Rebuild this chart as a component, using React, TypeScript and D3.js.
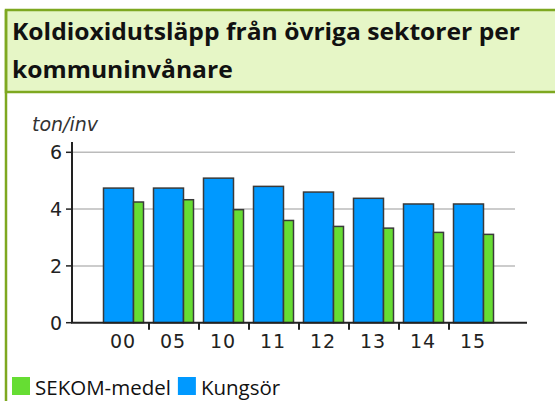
import React, { useEffect, useRef } from "react";
import * as d3 from "d3";

const years = ["00", "05", "10", "11", "12", "13", "14", "15"];
const kungsor = [4.74, 4.74, 5.09, 4.8, 4.6, 4.38, 4.18, 4.18];
const sekom = [4.25, 4.33, 3.98, 3.6, 3.39, 3.33, 3.18, 3.11];
const yTicks = [0, 2, 4, 6];
const titleLines = ["Koldioxidutsläpp från övriga sektorer per", "kommuninvånare"];
const legendItems = [
  { label: "SEKOM-medel", color: "#66dd33" },
  { label: "Kungsör", color: "#0099ff" },
];

const App = () => {
  const ref = useRef<SVGSVGElement>(null);

  useEffect(() => {
    const svg = d3.select(ref.current);
    svg.selectAll("*").remove();

    // header box
    svg
      .append("rect")
      .attr("x", 6)
      .attr("y", 10)
      .attr("width", 560)
      .attr("height", 82)
      .attr("fill", "#e6f6c6")
      .attr("stroke", "#7ea820")
      .attr("stroke-width", 2.5);
    svg
      .append("line")
      .attr("x1", 6)
      .attr("x2", 6)
      .attr("y1", 10)
      .attr("y2", 401)
      .attr("stroke", "#7ea820")
      .attr("stroke-width", 2.5);

    // title, squeezed so the first line spans like the narrow original font
    const spans = titleLines.map((line, i) =>
      svg
        .append("text")
        .attr("x", 12)
        .attr("y", 40 + i * 38)
        .attr("font-family", "Open Sans")
        .attr("font-weight", "bold")
        .attr("font-size", 24)
        .attr("fill", "#111")
        .text(line)
    );
    const k = 508 / (spans[0].node() as SVGTextElement).getComputedTextLength();
    spans.forEach((s) => {
      const w = (s.node() as SVGTextElement).getComputedTextLength();
      s.attr("textLength", w * k).attr("lengthAdjust", "spacingAndGlyphs");
    });

    const x = d3.scaleBand().domain(years).range([99, 499]);
    const bw = x.bandwidth();
    const y = d3.scaleLinear().domain([0, 6]).range([322.7, 152.3]);

    const axisLeft = 72;
    const axisRight = 527;

    // grid
    svg
      .append("g")
      .selectAll("line")
      .data(yTicks.filter((d) => d > 0))
      .enter()
      .append("line")
      .attr("x1", axisLeft)
      .attr("x2", 515)
      .attr("y1", (d) => y(d))
      .attr("y2", (d) => y(d))
      .attr("stroke", "#bbb")
      .attr("stroke-width", 1.5);

    // bars
    const g = svg.append("g").attr("stroke", "#3a3a3a").attr("stroke-width", 1.5);
    g.selectAll(".k")
      .data(years)
      .enter()
      .append("rect")
      .attr("x", (d) => x(d)! + bw * 0.09)
      .attr("width", bw * 0.6)
      .attr("y", (d, i) => y(kungsor[i]))
      .attr("height", (d, i) => y(0) - y(kungsor[i]))
      .attr("fill", "#0099ff");
    g.selectAll(".s")
      .data(years)
      .enter()
      .append("rect")
      .attr("x", (d) => x(d)! + bw * 0.69)
      .attr("width", bw * 0.2)
      .attr("y", (d, i) => y(sekom[i]))
      .attr("height", (d, i) => y(0) - y(sekom[i]))
      .attr("fill", "#66dd33");

    // axes
    svg
      .append("line")
      .attr("x1", axisLeft)
      .attr("x2", axisLeft)
      .attr("y1", 142)
      .attr("y2", y(0))
      .attr("stroke", "#222")
      .attr("stroke-width", 2);
    svg
      .append("line")
      .attr("x1", axisLeft - 1)
      .attr("x2", axisRight)
      .attr("y1", y(0))
      .attr("y2", y(0))
      .attr("stroke", "#222")
      .attr("stroke-width", 2);

    svg
      .append("g")
      .selectAll("line")
      .data(yTicks)
      .enter()
      .append("line")
      .attr("x1", axisLeft - 6)
      .attr("x2", axisLeft)
      .attr("y1", (d) => y(d))
      .attr("y2", (d) => y(d))
      .attr("stroke", "#222")
      .attr("stroke-width", 1.5);

    svg
      .append("g")
      .selectAll("text")
      .data(yTicks)
      .enter()
      .append("text")
      .attr("x", 62)
      .attr("y", (d) => y(d))
      .attr("dy", "0.36em")
      .attr("text-anchor", "end")
      .attr("font-family", "DejaVu Sans")
      .attr("font-size", 19)
      .attr("fill", "#222")
      .text((d) => d);

    // separator ticks between categories
    svg
      .append("g")
      .selectAll("line")
      .data(years.slice(1))
      .enter()
      .append("line")
      .attr("x1", (d) => x(d)!)
      .attr("x2", (d) => x(d)!)
      .attr("y1", y(0))
      .attr("y2", y(0) + 7)
      .attr("stroke", "#222")
      .attr("stroke-width", 2);

    svg
      .append("g")
      .selectAll("text")
      .data(years)
      .enter()
      .append("text")
      .attr("x", (d) => x(d)! + bw / 2 - 1)
      .attr("y", 348)
      .attr("text-anchor", "middle")
      .attr("font-family", "DejaVu Sans")
      .attr("font-size", 19)
      .attr("letter-spacing", 1)
      .attr("fill", "#222")
      .text((d) => d);

    svg
      .append("text")
      .attr("x", 32)
      .attr("y", 131)
      .attr("font-family", "DejaVu Sans")
      .attr("font-style", "italic")
      .attr("font-size", 19)
      .attr("fill", "#333")
      .text("ton/inv");

    // legend
    let lx = 12;
    legendItems.forEach((item) => {
      svg
        .append("rect")
        .attr("x", lx)
        .attr("y", 377)
        .attr("width", 18)
        .attr("height", 18)
        .attr("fill", item.color);
      const t = svg
        .append("text")
        .attr("x", lx + 23)
        .attr("y", 395)
        .attr("font-family", "Open Sans")
        .attr("font-size", 20.5)
        .attr("fill", "#111")
        .text(item.label);
      lx += 23 + (t.node() as SVGTextElement).getComputedTextLength() + 7;
    });
  }, []);

  return (
    <svg
      ref={ref}
      width={555}
      height={401}
      style={{ position: "absolute", left: 0, top: 0, background: "#fff" }}
    />
  );
};

export default App;
